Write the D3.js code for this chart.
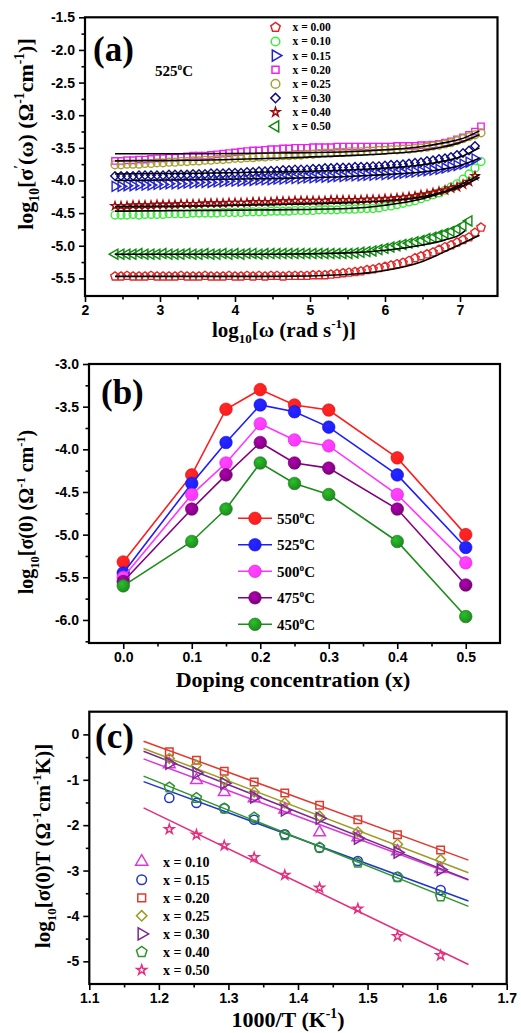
<!DOCTYPE html>
<html>
<head>
<meta charset="utf-8">
<script src="https://cdn.jsdelivr.net/npm/d3@7"></script>
<style>
  body { margin: 0; background: #fff; }
  svg { display: block; }
</style>
</head>
<body>
<svg id="fig" width="521" height="1033"></svg>
<script>
// ---------- (a) AC conductivity spectra at 525 °C ----------
const logW = [
  2.40, 2.48, 2.56, 2.64, 2.72, 2.80, 2.88, 2.96, 3.04, 3.12,
  3.20, 3.28, 3.36, 3.44, 3.52, 3.60, 3.68, 3.76, 3.84, 3.92,
  4.00, 4.08, 4.16, 4.24, 4.32, 4.40, 4.48, 4.56, 4.64, 4.72,
  4.80, 4.88, 4.96, 5.04, 5.12, 5.20, 5.28, 5.36, 5.44, 5.52,
  5.60, 5.68, 5.76, 5.84, 5.92, 6.00, 6.08, 6.16, 6.24, 6.32,
  6.40, 6.48, 6.56, 6.64, 6.72, 6.80, 6.88, 6.96, 7.04, 7.12,
  7.20, 7.28
];
const acLabels = ["x = 0.00", "x = 0.10", "x = 0.15", "x = 0.20", "x = 0.25", "x = 0.30", "x = 0.40", "x = 0.50"];
const ac000 = [
  -5.47,-5.47,-5.46,-5.47,-5.47,-5.47,-5.46,-5.47,-5.47,-5.47,
  -5.47,-5.46,-5.47,-5.47,-5.47,-5.46,-5.47,-5.47,-5.47,-5.46,
  -5.47,-5.47,-5.46,-5.47,-5.46,-5.47,-5.46,-5.46,-5.47,-5.46,
  -5.46,-5.46,-5.46,-5.45,-5.45,-5.45,-5.44,-5.43,-5.42,-5.41,
  -5.40,-5.39,-5.37,-5.36,-5.34,-5.32,-5.30,-5.28,-5.26,-5.23,
  -5.19,-5.16,-5.13,-5.10,-5.06,-5.02,-4.99,-4.95,-4.91,-4.87,
  -4.80,-4.72];
const ac010 = [
  -4.53,-4.53,-4.53,-4.52,-4.53,-4.52,-4.52,-4.52,-4.52,-4.51,
  -4.51,-4.51,-4.51,-4.50,-4.50,-4.50,-4.50,-4.50,-4.49,-4.49,
  -4.49,-4.49,-4.48,-4.48,-4.48,-4.48,-4.47,-4.47,-4.47,-4.47,
  -4.46,-4.46,-4.46,-4.46,-4.45,-4.45,-4.45,-4.45,-4.44,-4.44,
  -4.44,-4.43,-4.43,-4.43,-4.42,-4.40,-4.39,-4.37,-4.35,-4.33,
  -4.31,-4.28,-4.25,-4.22,-4.19,-4.15,-4.10,-4.05,-3.98,-3.90,
  -3.81,-3.71];
const ac015 = [
  -4.09,-4.09,-4.08,-4.08,-4.07,-4.07,-4.07,-4.06,-4.06,-4.05,
  -4.05,-4.05,-4.04,-4.04,-4.03,-4.03,-4.03,-4.02,-4.02,-4.01,
  -4.01,-4.01,-4.00,-4.00,-3.99,-3.99,-3.99,-3.98,-3.98,-3.97,
  -3.97,-3.97,-3.96,-3.96,-3.95,-3.95,-3.95,-3.94,-3.94,-3.93,
  -3.93,-3.93,-3.92,-3.92,-3.91,-3.91,-3.90,-3.90,-3.89,-3.88,
  -3.87,-3.86,-3.85,-3.84,-3.83,-3.81,-3.79,-3.77,-3.75,-3.72,
  -3.67];
const ac020 = [
  -3.70,-3.70,-3.69,-3.69,-3.68,-3.68,-3.67,-3.66,-3.66,-3.65,
  -3.65,-3.64,-3.63,-3.62,-3.62,-3.62,-3.61,-3.60,-3.59,-3.58,
  -3.57,-3.56,-3.55,-3.54,-3.54,-3.53,-3.52,-3.52,-3.51,-3.51,
  -3.50,-3.50,-3.50,-3.49,-3.49,-3.49,-3.49,-3.48,-3.48,-3.48,
  -3.48,-3.48,-3.48,-3.48,-3.48,-3.48,-3.48,-3.47,-3.47,-3.47,
  -3.47,-3.46,-3.46,-3.45,-3.44,-3.42,-3.40,-3.37,-3.34,-3.30,
  -3.25,-3.17];
const ac025 = [
  -3.76,-3.76,-3.75,-3.75,-3.75,-3.74,-3.74,-3.73,-3.73,-3.72,
  -3.72,-3.71,-3.71,-3.70,-3.70,-3.69,-3.69,-3.68,-3.68,-3.67,
  -3.66,-3.66,-3.65,-3.65,-3.64,-3.64,-3.63,-3.63,-3.62,-3.62,
  -3.61,-3.61,-3.60,-3.60,-3.59,-3.58,-3.58,-3.57,-3.57,-3.56,
  -3.56,-3.56,-3.55,-3.55,-3.54,-3.54,-3.53,-3.53,-3.52,-3.52,
  -3.51,-3.50,-3.49,-3.47,-3.46,-3.44,-3.42,-3.39,-3.36,-3.33,
  -3.30,-3.27];
const ac030 = [
  -3.93,-3.93,-3.93,-3.93,-3.92,-3.92,-3.92,-3.92,-3.92,-3.91,
  -3.91,-3.91,-3.91,-3.90,-3.90,-3.90,-3.89,-3.89,-3.89,-3.88,
  -3.88,-3.88,-3.87,-3.87,-3.86,-3.86,-3.85,-3.85,-3.84,-3.84,
  -3.83,-3.83,-3.83,-3.82,-3.82,-3.81,-3.81,-3.80,-3.80,-3.80,
  -3.79,-3.79,-3.79,-3.78,-3.78,-3.77,-3.76,-3.76,-3.75,-3.74,
  -3.73,-3.72,-3.70,-3.69,-3.67,-3.66,-3.64,-3.61,-3.58,-3.54,
  -3.47];
const ac040 = [
  -4.39,-4.39,-4.39,-4.38,-4.38,-4.38,-4.38,-4.37,-4.37,-4.37,
  -4.37,-4.36,-4.36,-4.36,-4.36,-4.35,-4.35,-4.35,-4.35,-4.34,
  -4.34,-4.34,-4.34,-4.33,-4.33,-4.33,-4.33,-4.32,-4.32,-4.32,
  -4.31,-4.31,-4.31,-4.31,-4.31,-4.31,-4.30,-4.30,-4.30,-4.30,
  -4.30,-4.30,-4.29,-4.29,-4.29,-4.28,-4.28,-4.27,-4.26,-4.25,
  -4.24,-4.22,-4.21,-4.19,-4.17,-4.15,-4.12,-4.10,-4.06,-4.02,
  -3.93];
const ac050 = [
  -5.13,-5.13,-5.13,-5.13,-5.12,-5.13,-5.13,-5.13,-5.12,-5.13,
  -5.13,-5.13,-5.12,-5.13,-5.13,-5.12,-5.13,-5.13,-5.12,-5.13,
  -5.12,-5.13,-5.12,-5.12,-5.13,-5.12,-5.12,-5.12,-5.12,-5.12,
  -5.12,-5.12,-5.12,-5.12,-5.12,-5.12,-5.12,-5.12,-5.12,-5.12,
  -5.11,-5.10,-5.09,-5.08,-5.06,-5.04,-5.02,-5.00,-4.98,-4.96,
  -4.94,-4.92,-4.89,-4.87,-4.84,-4.81,-4.78,-4.74,-4.69,-4.62];

// fitted power-law curves, sampled at these frequencies
const fitW = [2.40, 3.50, 4.50, 5.50, 6.00, 6.50, 6.80, 7.00, 7.26];
const fitWShort = [2.40, 3.50, 4.50, 5.50, 6.00, 6.50, 6.80, 7.00, 7.07];
const fit000 = [-5.47, -5.47, -5.47, -5.44, -5.38, -5.24, -5.09, -4.98, -4.84];
const fit010 = [-4.47, -4.46, -4.45, -4.43, -4.38, -4.28, -4.17, -4.07, -3.91];
const fit015 = [-4.00, -3.99, -3.97, -3.94, -3.91, -3.87, -3.82, -3.77, -3.66];
const fit020 = [-3.59, -3.59, -3.58, -3.56, -3.53, -3.48, -3.42, -3.37, -3.24];
const fit025 = [-3.70, -3.69, -3.66, -3.62, -3.59, -3.54, -3.48, -3.42, -3.30];
const fit030 = [-3.90, -3.89, -3.87, -3.84, -3.81, -3.76, -3.70, -3.64, -3.50];
const fit040 = [-4.40, -4.39, -4.37, -4.34, -4.31, -4.25, -4.17, -4.10, -3.95];
const fit050 = [-5.13, -5.13, -5.13, -5.11, -5.07, -4.99, -4.91, -4.83, -4.77];

// ---------- (b) DC conductivity vs doping ----------
const doping = [0.0, 0.1, 0.15, 0.2, 0.25, 0.3, 0.4, 0.5];
const tempLabels = ["550", "525", "500", "475", "450"];
const dc550 = [-5.32, -4.30, -3.53, -3.30, -3.48, -3.54, -4.10, -5.00];
const dc525 = [-5.45, -4.40, -3.92, -3.48, -3.56, -3.74, -4.30, -5.15];
const dc500 = [-5.50, -4.53, -4.16, -3.70, -3.89, -3.96, -4.53, -5.33];
const dc475 = [-5.55, -4.70, -4.30, -3.92, -4.16, -4.22, -4.70, -5.59];
const dc450 = [-5.60, -5.08, -4.70, -4.16, -4.40, -4.53, -5.08, -5.96];

// ---------- (c) Arrhenius plot ----------
const invT = [1.215, 1.254, 1.294, 1.337, 1.381, 1.431, 1.486, 1.543, 1.605];
const arrLabels = ["x = 0.10", "x = 0.15", "x = 0.20", "x = 0.25", "x = 0.30", "x = 0.40", "x = 0.50"];
const ar010 = [-0.66, -1.01, -1.27, -1.41, -1.66, -2.16, -2.27, -2.58, -2.97];
const ar015 = [-1.40, -1.51, -1.63, -1.88, -2.20, -2.50, -2.79, -3.14, -3.43];
const ar020 = [-0.38, -0.57, -0.81, -1.05, -1.29, -1.56, -1.88, -2.21, -2.55];
const ar025 = [-0.53, -0.68, -1.01, -1.27, -1.51, -1.80, -2.15, -2.42, -2.76];
const ar030 = [-0.64, -0.85, -1.08, -1.38, -1.67, -1.85, -2.29, -2.60, -2.98];
const ar040 = [-1.17, -1.40, -1.63, -1.83, -2.22, -2.49, -2.83, -3.15, -3.57];
const ar050 = [-2.09, -2.21, -2.45, -2.71, -3.10, -3.38, -3.84, -4.45, -4.87];
const arrFitT = [1.178, 1.645];
const arFit010 = [-0.54, -3.21];
const arFit015 = [-1.04, -3.67];
const arFit020 = [-0.15, -2.77];
const arFit025 = [-0.31, -3.05];
const arFit030 = [-0.37, -3.20];
const arFit040 = [-0.92, -3.79];
const arFit050 = [-1.62, -5.07];

// ---------- axis ticks ----------
const aTicksX = [2, 3, 4, 5, 6, 7];
const aMinorX = [2.5, 3.5, 4.5, 5.5, 6.5];
const aTicksY = [-1.5, -2.0, -2.5, -3.0, -3.5, -4.0, -4.5, -5.0, -5.5];
const aMinorY = [-1.75, -2.25, -2.75, -3.25, -3.75, -4.25, -4.75, -5.25];
const bTicksX = [0.0, 0.1, 0.2, 0.3, 0.4, 0.5];
const bMinorX = [0.05, 0.15, 0.25, 0.35, 0.45];
const bTicksY = [-3.0, -3.5, -4.0, -4.5, -5.0, -5.5, -6.0];
const bMinorY = [-3.25, -3.75, -4.25, -4.75, -5.25, -5.75, -6.25];
const cTicksX = [1.1, 1.2, 1.3, 1.4, 1.5, 1.6, 1.7];
const cMinorX = [1.15, 1.25, 1.35, 1.45, 1.55, 1.65];
const cTicksY = [0, -1, -2, -3, -4, -5];
const cMinorY = [-0.5, -1.5, -2.5, -3.5, -4.5];

// ---------- drawing ----------
const SERIF = '"Liberation Serif", "Times New Roman", serif';
const SANS = '"Liberation Sans", Arial, sans-serif';
const svg = d3.select("#fig");
svg.append("rect").attr("width", 521).attr("height", 1033).attr("fill", "#fff");

// regular pentagon symbol (area-based like the built-in symbols)
const symbolPentagon = {
  draw(ctx, size) {
    const r = Math.sqrt(size / (2.5 * Math.sin(2 * Math.PI / 5)));
    for (let i = 0; i < 5; i++) {
      const a = -Math.PI / 2 + i * 2 * Math.PI / 5;
      const px = r * Math.cos(a), py = r * Math.sin(a);
      if (i === 0) ctx.moveTo(px, py); else ctx.lineTo(px, py);
    }
    ctx.closePath();
  }
};
const SHAPES = {
  pentagon: { type: symbolPentagon, rot: 0, k: 1.0 },
  circle: { type: d3.symbolCircle, rot: 0, k: 1.0 },
  square: { type: d3.symbolSquare, rot: 0, k: 0.85 },
  diamond: { type: d3.symbolSquare, rot: 45, k: 0.75 },
  triUp: { type: d3.symbolTriangle, rot: 0, k: 0.9 },
  triRight: { type: d3.symbolTriangle, rot: 90, k: 0.9 },
  triLeft: { type: d3.symbolTriangle, rot: -90, k: 0.9 },
  star: { type: d3.symbolStar, rot: 0, k: 0.42 }
};
function marker(g, shape, x, y, size, color, sw) {
  const s = SHAPES[shape];
  return g.append("path")
    .attr("d", d3.symbol().type(s.type).size(size * s.k)())
    .attr("transform", `translate(${x},${y}) rotate(${s.rot})`)
    .attr("fill", "none").attr("stroke", color).attr("stroke-width", sw);
}

// text with sub/superscript runs: parts = [[str, "n"|"sub"|"sup"], ...]
function rich(t, parts, fs) {
  let shift = 0;
  parts.forEach(([str, kind]) => {
    const target = kind === "sub" ? fs * 0.28 : kind === "sup" ? -fs * 0.42 : 0;
    t.append("tspan")
      .attr("dy", (target - shift).toFixed(2))
      .attr("font-size", kind === "n" ? fs : fs * 0.62)
      .text(str);
    shift = target;
  });
  return t;
}
function label(g, x, y, parts, fs, opts = {}) {
  const t = g.append("text")
    .attr("font-family", opts.family || SERIF)
    .attr("font-weight", "bold")
    .attr("fill", "#000")
    .attr("text-anchor", opts.anchor || "start")
    .attr("transform", `translate(${x},${y})` + (opts.rotate ? ` rotate(${opts.rotate})` : ""));
  return rich(t, parts, fs);
}

function frame(g, x, y, o) {
  const [x0, x1] = x.range();
  const [yb, yt] = y.range();
  const bottom = g.append("g").attr("transform", `translate(0,${yb})`);
  bottom.append("g").call(d3.axisBottom(x).tickValues(o.xMajor).tickSize(6).tickPadding(3).tickFormat(o.xFmt));
  bottom.append("g").call(d3.axisBottom(x).tickValues(o.xMinor).tickSize(3.5).tickFormat(""));
  const left = g.append("g").attr("transform", `translate(${x0},0)`);
  left.append("g").call(d3.axisLeft(y).tickValues(o.yMajor).tickSize(6).tickPadding(4).tickFormat(o.yFmt));
  left.append("g").call(d3.axisLeft(y).tickValues(o.yMinor).tickSize(3.5).tickFormat(""));
  g.selectAll(".domain").remove();
  g.selectAll(".tick line").attr("stroke", "#000").attr("stroke-width", 1.6);
  g.selectAll(".tick text")
    .attr("fill", "#000").attr("font-family", SANS).attr("font-weight", "bold").attr("font-size", 14);
  g.append("rect")
    .attr("x", x0).attr("y", yt).attr("width", x1 - x0).attr("height", yb - yt)
    .attr("fill", "none").attr("stroke", "#000").attr("stroke-width", 2.2);
}

// ===== panel (a) =====
{
  const g = svg.append("g");
  const x = d3.scaleLinear().domain([2, 7.5]).range([85, 497.5]);
  const y = d3.scaleLinear().domain([-5.77, -1.5]).range([296, 17.3]);
  const series = [
    { v: ac000, fit: fit000, fw: fitW, shape: "pentagon", color: "#e02828" },
    { v: ac010, fit: fit010, fw: fitW, shape: "circle", color: "#3ee83e" },
    { v: ac015, fit: fit015, fw: fitW, shape: "triRight", color: "#2020d8" },
    { v: ac020, fit: fit020, fw: fitW, shape: "square", color: "#ee22ee" },
    { v: ac025, fit: fit025, fw: fitW, shape: "circle", color: "#a8a030" },
    { v: ac030, fit: fit030, fw: fitW, shape: "diamond", color: "#0c0c80" },
    { v: ac040, fit: fit040, fw: fitW, shape: "star", color: "#9a0a0a" },
    { v: ac050, fit: fit050, fw: fitWShort, shape: "triLeft", color: "#0c8a0c" }
  ];
  series.forEach(s => {
    const mg = g.append("g");
    s.v.forEach((val, i) => marker(mg, s.shape, x(logW[i]), y(val), 48, s.color, 1.4));
  });
  const line = d3.line().curve(d3.curveMonotoneX);
  series.forEach(s => {
    g.append("path")
      .attr("d", line(s.fit.map((v, i) => [x(s.fw[i]), y(v)])))
      .attr("fill", "none").attr("stroke", "#000").attr("stroke-width", 1.6);
  });
  frame(g, x, y, {
    xMajor: aTicksX, xMinor: aMinorX, yMajor: aTicksY, yMinor: aMinorY,
    xFmt: d => String(d), yFmt: d => d.toFixed(1)
  });
  // legend
  series.forEach((s, i) => {
    const cy = 27.3 + i * 14.15;
    marker(g, s.shape, 275.5, cy, 58, s.color, 1.5);
    label(g, 292.5, cy + 4, [[acLabels[i], "n"]], 11.5);
  });
  label(g, 93, 61, [["(a)", "n"]], 35);
  label(g, 155, 76, [["525", "n"], ["o", "sup"], ["C", "n"]], 15);
  label(g, 33, 134, [["log", "n"], ["10", "sub"], ["[σ", "n"], ["′", "sup"], ["(ω) (Ω", "n"], ["-1", "sup"], ["cm", "n"], ["-1", "sup"], [")]", "n"]], 22, { anchor: "middle", rotate: -90 });
  label(g, 284, 337, [["log", "n"], ["10", "sub"], ["[ω (rad s", "n"], ["-1", "sup"], [")]", "n"]], 21, { anchor: "middle" });
}

// ===== panel (b) =====
{
  const g = svg.append("g");
  const x = d3.scaleLinear().domain([-0.05, 0.55]).range([89, 500]);
  const y = d3.scaleLinear().domain([-6.27, -3.0]).range([643, 364]);
  const series = [
    { v: dc550, color: "#ff1c1c" },
    { v: dc525, color: "#1c1cff" },
    { v: dc500, color: "#ff33ff" },
    { v: dc475, color: "#800080" },
    { v: dc450, color: "#1e8c1e" }
  ];
  const defs = svg.append("defs");
  series.forEach((s, k) => {
    const gr = defs.append("radialGradient").attr("id", "ball" + k)
      .attr("cx", "38%").attr("cy", "35%").attr("r", "65%");
    gr.append("stop").attr("offset", "0%").attr("stop-color", d3.color(s.color).brighter(0.9));
    gr.append("stop").attr("offset", "100%").attr("stop-color", s.color);
  });
  const line = d3.line();
  series.forEach((s, k) => {
    g.append("path")
      .attr("d", line(s.v.map((v, i) => [x(doping[i]), y(v)])))
      .attr("fill", "none").attr("stroke", s.color).attr("stroke-width", 1.6);
    s.v.forEach((v, i) => {
      g.append("circle").attr("cx", x(doping[i])).attr("cy", y(v)).attr("r", 6.3)
        .attr("fill", `url(#ball${k})`).attr("stroke", d3.color(s.color).darker(0.6)).attr("stroke-width", 0.6);
    });
  });
  frame(g, x, y, {
    xMajor: bTicksX, xMinor: bMinorX, yMajor: bTicksY, yMinor: bMinorY,
    xFmt: d => d.toFixed(1), yFmt: d => d.toFixed(1)
  });
  series.forEach((s, k) => {
    const cy = 518.3 + k * 26.5;
    g.append("line").attr("x1", 238).attr("x2", 272).attr("y1", cy).attr("y2", cy)
      .attr("stroke", s.color).attr("stroke-width", 1.6);
    g.append("circle").attr("cx", 255).attr("cy", cy).attr("r", 6.3)
      .attr("fill", `url(#ball${k})`).attr("stroke", d3.color(s.color).darker(0.6)).attr("stroke-width", 0.6);
    label(g, 277, cy + 5.5, [[tempLabels[k], "n"], ["o", "sup"], ["C", "n"]], 15);
  });
  label(g, 101, 404, [["(b)", "n"]], 35);
  label(g, 33, 512, [["log", "n"], ["10", "sub"], ["[σ(0) (Ω", "n"], ["-1", "sup"], [" cm", "n"], ["-1", "sup"], [")", "n"]], 20, { anchor: "middle", rotate: -90 });
  label(g, 293, 687, [["Doping concentration (x)", "n"]], 22, { anchor: "middle" });
}

// ===== panel (c) =====
{
  const g = svg.append("g");
  const x = d3.scaleLinear().domain([1.1, 1.7]).range([89.3, 506.7]);
  const y = d3.scaleLinear().domain([-5.5, 0.5]).range([984, 711.7]);
  const series = [
    { v: ar010, fit: arFit010, shape: "triUp", color: "#d83ad8" },
    { v: ar015, fit: arFit015, shape: "circle", color: "#2236c8" },
    { v: ar020, fit: arFit020, shape: "square", color: "#e03a30" },
    { v: ar025, fit: arFit025, shape: "diamond", color: "#9c9a22" },
    { v: ar030, fit: arFit030, shape: "triRight", color: "#7a2a8c" },
    { v: ar040, fit: arFit040, shape: "pentagon", color: "#2e962e" },
    { v: ar050, fit: arFit050, shape: "star", color: "#e2307e" }
  ];
  series.forEach(s => {
    g.append("line")
      .attr("x1", x(arrFitT[0])).attr("y1", y(s.fit[0]))
      .attr("x2", x(arrFitT[1])).attr("y2", y(s.fit[1]))
      .attr("stroke", s.color).attr("stroke-width", 1.5);
  });
  series.forEach(s => {
    s.v.forEach((v, i) => marker(g, s.shape, x(invT[i]), y(v), 66, s.color, 1.5));
  });
  frame(g, x, y, {
    xMajor: cTicksX, xMinor: cMinorX, yMajor: cTicksY, yMinor: cMinorY,
    xFmt: d => d.toFixed(1), yFmt: d => String(d)
  });
  series.forEach((s, k) => {
    const cy = 861.7 + k * 18.05;
    marker(g, s.shape, 141.7, cy, 72, s.color, 1.5);
    label(g, 163, cy + 5, [[arrLabels[k], "n"]], 14);
  });
  label(g, 95, 748, [["(c)", "n"]], 35);
  label(g, 50, 846, [["log", "n"], ["10", "sub"], ["[σ(0)T (Ω", "n"], ["-1", "sup"], ["cm", "n"], ["-1", "sup"], ["K)]", "n"]], 21, { anchor: "middle", rotate: -90 });
  label(g, 288, 1027, [["1000/T (K", "n"], ["-1", "sup"], [")", "n"]], 22, { anchor: "middle" });
}
</script>
</body>
</html>
